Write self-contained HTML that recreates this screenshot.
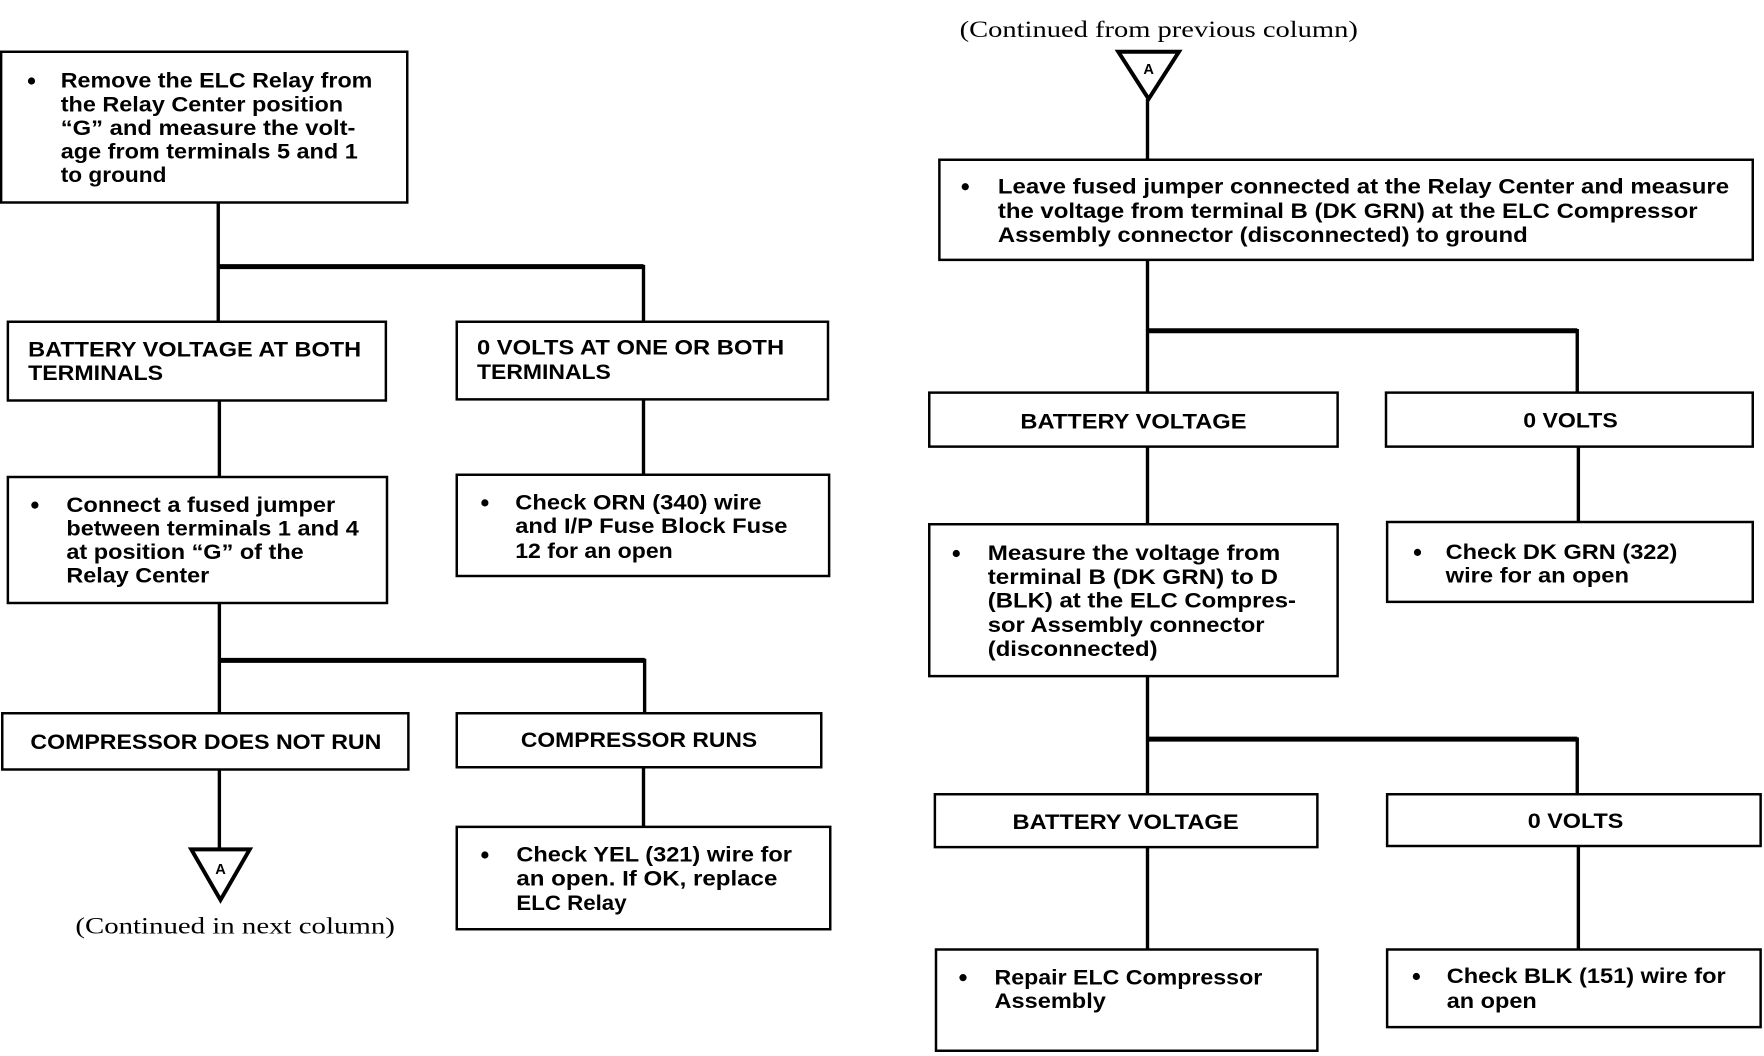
<!DOCTYPE html>
<html><head><meta charset="utf-8"><style>
html,body{margin:0;padding:0;background:#fff;}
svg{display:block;}
.t{font-family:"Liberation Sans",Arial,sans-serif;font-weight:bold;font-size:18.5px;fill:#000;}
.s{font-family:"Liberation Serif","Times New Roman",serif;font-size:21px;fill:#000;}
</style></head><body>
<svg width="1764" height="1056" viewBox="0 0 1568 938.67" xmlns="http://www.w3.org/2000/svg">
<g fill="none" stroke="#000" stroke-width="2.2">
<rect x="1" y="46" width="361" height="134"/>
<rect x="7" y="286" width="336" height="70"/>
<rect x="406" y="286" width="330" height="69"/>
<rect x="7" y="424" width="337" height="112"/>
<rect x="406" y="422" width="331" height="90"/>
<rect x="2" y="634" width="361" height="50"/>
<rect x="406" y="634" width="324" height="48"/>
<rect x="406" y="735" width="332" height="91"/>
<rect x="835" y="142" width="723" height="89"/>
<rect x="826" y="349" width="363" height="48"/>
<rect x="1232" y="349" width="326" height="48"/>
<rect x="826" y="466" width="363" height="135"/>
<rect x="1233" y="464" width="325" height="71"/>
<rect x="831" y="706" width="340" height="47"/>
<rect x="1233" y="706" width="332" height="46"/>
<rect x="832" y="844" width="339" height="90"/>
<rect x="1233" y="844" width="332" height="69"/>
</g>
<g fill="none" stroke="#000" stroke-width="3">
<path d="M194 180V286M194 237H572V286M195 356V424M572 355V422M195 536V634M195 587H573V634M572 682V735M195 684V755"/>
<path d="M1020 88V142M1020 231V349M1020 294H1402V349M1020 397V466M1403 397V464M1020 601V706M1020 657H1402V706M1020 753V844M1403 752V844"/>
<polygon points="170,755 222,755 196,800" stroke-width="3.5"/>
<polygon points="994,46 1048,46 1021,88" stroke-width="3.5"/>
</g>
<g stroke="#000" stroke-width="4.5"><path d="M194 237H572M195 587H573M1020 294H1402M1020 657H1402"/></g>
<g class="t" font-size="13">
<text x="196" y="777" text-anchor="middle" style="font-size:13px">A</text>
<text x="1021" y="66" text-anchor="middle" style="font-size:13px">A</text>
</g>
<text class="s" x="67" y="830" textLength="284" lengthAdjust="spacingAndGlyphs">(Continued in next column)</text>
<text class="s" x="853" y="33" textLength="354" lengthAdjust="spacingAndGlyphs">(Continued from previous column)</text>
<g class="t">
<circle cx="28" cy="72" r="3.2"/>
<text x="54" y="78" textLength="277" lengthAdjust="spacingAndGlyphs">Remove the ELC Relay from</text>
<text x="54" y="99" textLength="251" lengthAdjust="spacingAndGlyphs">the Relay Center position</text>
<text x="54" y="120" textLength="262" lengthAdjust="spacingAndGlyphs">“G” and measure the volt-</text>
<text x="54" y="141" textLength="264" lengthAdjust="spacingAndGlyphs">age from terminals 5 and 1</text>
<text x="54" y="162" textLength="94" lengthAdjust="spacingAndGlyphs">to ground</text>

<text x="25" y="317" textLength="296" lengthAdjust="spacingAndGlyphs">BATTERY VOLTAGE AT BOTH</text>
<text x="25" y="338" textLength="120" lengthAdjust="spacingAndGlyphs">TERMINALS</text>
<text x="424" y="315" textLength="273" lengthAdjust="spacingAndGlyphs">0 VOLTS AT ONE OR BOTH</text>
<text x="424" y="337" textLength="119" lengthAdjust="spacingAndGlyphs">TERMINALS</text>

<circle cx="31" cy="449" r="3.2"/>
<text x="59" y="455" textLength="239" lengthAdjust="spacingAndGlyphs">Connect a fused jumper</text>
<text x="59" y="476" textLength="260" lengthAdjust="spacingAndGlyphs">between terminals 1 and 4</text>
<text x="59" y="497" textLength="211" lengthAdjust="spacingAndGlyphs">at position “G” of the</text>
<text x="59" y="518" textLength="127" lengthAdjust="spacingAndGlyphs">Relay Center</text>

<circle cx="431" cy="447" r="3.2"/>
<text x="458" y="453" textLength="219" lengthAdjust="spacingAndGlyphs">Check ORN (340) wire</text>
<text x="458" y="474" textLength="242" lengthAdjust="spacingAndGlyphs">and I/P Fuse Block Fuse</text>
<text x="458" y="496" textLength="140" lengthAdjust="spacingAndGlyphs">12 for an open</text>

<text x="27" y="666" textLength="312" lengthAdjust="spacingAndGlyphs">COMPRESSOR DOES NOT RUN</text>
<text x="463" y="664" textLength="210" lengthAdjust="spacingAndGlyphs">COMPRESSOR RUNS</text>

<circle cx="431" cy="760" r="3.2"/>
<text x="459" y="766" textLength="245" lengthAdjust="spacingAndGlyphs">Check YEL (321) wire for</text>
<text x="459" y="787" textLength="232" lengthAdjust="spacingAndGlyphs">an open. If OK, replace</text>
<text x="459" y="809" textLength="98" lengthAdjust="spacingAndGlyphs">ELC Relay</text>

<circle cx="858" cy="166" r="3.2"/>
<text x="887" y="172" textLength="650" lengthAdjust="spacingAndGlyphs">Leave fused jumper connected at the Relay Center and measure</text>
<text x="887" y="194" textLength="622" lengthAdjust="spacingAndGlyphs">the voltage from terminal B (DK GRN) at the ELC Compressor</text>
<text x="887" y="215" textLength="471" lengthAdjust="spacingAndGlyphs">Assembly connector (disconnected) to ground</text>

<text x="907" y="381" textLength="201" lengthAdjust="spacingAndGlyphs">BATTERY VOLTAGE</text>
<text x="1354" y="380" textLength="84" lengthAdjust="spacingAndGlyphs">0 VOLTS</text>

<circle cx="850" cy="492" r="3.2"/>
<text x="878" y="498" textLength="260" lengthAdjust="spacingAndGlyphs">Measure the voltage from</text>
<text x="878" y="519" textLength="258" lengthAdjust="spacingAndGlyphs">terminal B (DK GRN) to D</text>
<text x="878" y="540" textLength="274" lengthAdjust="spacingAndGlyphs">(BLK) at the ELC Compres-</text>
<text x="878" y="562" textLength="246" lengthAdjust="spacingAndGlyphs">sor Assembly connector</text>
<text x="878" y="583" textLength="151" lengthAdjust="spacingAndGlyphs">(disconnected)</text>

<circle cx="1260" cy="491" r="3.2"/>
<text x="1285" y="497" textLength="206" lengthAdjust="spacingAndGlyphs">Check DK GRN (322)</text>
<text x="1285" y="518" textLength="163" lengthAdjust="spacingAndGlyphs">wire for an open</text>

<text x="900" y="737" textLength="201" lengthAdjust="spacingAndGlyphs">BATTERY VOLTAGE</text>
<text x="1358" y="736" textLength="85" lengthAdjust="spacingAndGlyphs">0 VOLTS</text>

<circle cx="856" cy="869" r="3.2"/>
<text x="884" y="875" textLength="238" lengthAdjust="spacingAndGlyphs">Repair ELC Compressor</text>
<text x="884" y="896" textLength="99" lengthAdjust="spacingAndGlyphs">Assembly</text>

<circle cx="1259" cy="868" r="3.2"/>
<text x="1286" y="874" textLength="248" lengthAdjust="spacingAndGlyphs">Check BLK (151) wire for</text>
<text x="1286" y="896" textLength="80" lengthAdjust="spacingAndGlyphs">an open</text>
</g>
</svg>
</body></html>
